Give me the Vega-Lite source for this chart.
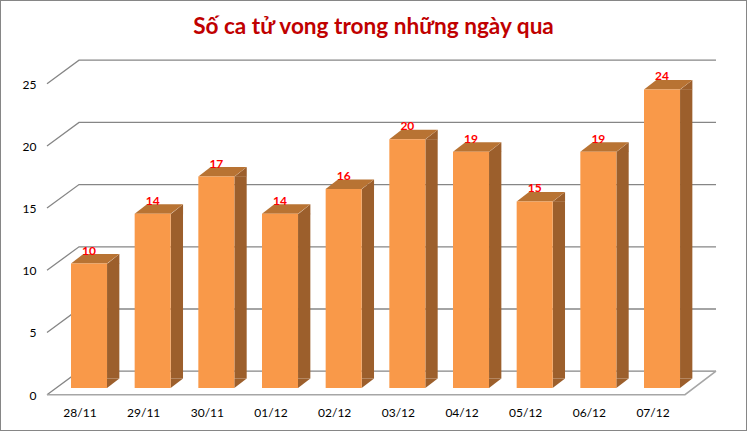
{
"$schema":"https://vega.github.io/schema/vega-lite/v6.json",
"width":747,"height":431,"padding":0,"autosize":{"type":"none"},
"background":"white",
"view":{"stroke":"#868686","strokeWidth":2,"fill":"white"},
"title":{"text":"Số ca tử vong trong những ngày qua","color":"#C00000","font":"Lato","fontWeight":"bold","fontSize":22.6,"anchor":"middle","frame":"group","orient":"top","offset":-35,"baseline":"alphabetic","dy":22},
"datasets":{
"ticks":[{"tick":0},{"tick":5},{"tick":10},{"tick":15},{"tick":20},{"tick":25}],
"deaths":[{"date":"28/11","value":10},{"date":"29/11","value":14},{"date":"30/11","value":17},{"date":"01/12","value":14},{"date":"02/12","value":16},{"date":"03/12","value":20},{"date":"04/12","value":19},{"date":"05/12","value":15},{"date":"06/12","value":19},{"date":"07/12","value":24}]
},
"layer":[
{"data":{"name":"ticks"},
 "mark":{"type":"point","shape":"M-42,6.7 L-10,-16.8 L627,-16.8","filled":false,"size":4,"stroke":"#868686","strokeWidth":1.3,"opacity":1},
 "encoding":{"x":{"datum":"28/11","type":"nominal","scale":{"domain":["28/11","29/11","30/11","01/12","02/12","03/12","04/12","05/12","06/12","07/12"],"range":[71,680],"paddingInner":0.4346,"paddingOuter":0},"axis":{"title":null,"orient":"bottom","offset":-24,"labelPadding":0,"ticks":false,"domain":false,"grid":false,"labelAngle":0,"labelOffset":-9,"labelFont":"Lato","labelFontSize":12,"labelColor":"#000000"}},
  "y":{"field":"tick","type":"quantitative","scale":{"domain":[0,25],"range":[388,77],"nice":false,"zero":true},"axis":{"title":null,"orient":"left","offset":-36,"labelPadding":0,"ticks":false,"domain":false,"grid":false,"values":[0,5,10,15,20,25],"labelOffset":7,"labelFont":"Lato","labelFontSize":12,"labelColor":"#000000"}}}},
{"data":{"values":[{"tick":0}]},
 "mark":{"type":"point","shape":"M-42,6.7 L596,6.7 L627,-16.8","filled":false,"size":4,"stroke":"#A6A6A6","strokeWidth":1.6,"opacity":1},
 "encoding":{"x":{"datum":"28/11","type":"nominal"},"y":{"field":"tick","type":"quantitative"}}},
{"data":{"name":"deaths"},
 "mark":{"type":"bar","size":12.3,"xOffset":24.2,"y2Offset":-9.5,"fill":"#9C5F2C"},
 "encoding":{"x":{"field":"date","type":"nominal","sort":null},"y":{"field":"value","type":"quantitative"},"y2":{"datum":0}}},
{"data":{"name":"deaths"},
 "mark":{"type":"point","shape":"M18,0.3 L30.4,-9.5 L30.4,0.3 Z","filled":true,"size":4,"fill":"#9C5F2C","strokeWidth":0,"opacity":1},
 "encoding":{"x":{"field":"date","type":"nominal","sort":null},"y":{"field":"value","type":"quantitative"}}},
{"data":{"name":"deaths"},
 "mark":{"type":"point","shape":"M18,0 L30.4,-9.5 L18,-9.5 Z","filled":true,"size":4,"fill":"#9C5F2C","strokeWidth":0,"opacity":1},
 "encoding":{"x":{"field":"date","type":"nominal","sort":null},"y":{"datum":0,"type":"quantitative"}}},
{"data":{"name":"deaths"},
 "mark":{"type":"point","shape":"M-18,0 L-5.7,-9.5 L30.4,-9.5 L18,0 Z","filled":true,"size":4,"fill":"#B87333","strokeWidth":0,"opacity":1},
 "encoding":{"x":{"field":"date","type":"nominal","sort":null},"y":{"field":"value","type":"quantitative"}}},
{"data":{"name":"deaths"},
 "mark":{"type":"bar","fill":"#F99949"},
 "encoding":{"x":{"field":"date","type":"nominal","sort":null},"y":{"field":"value","type":"quantitative"}}},
{"data":{"name":"deaths"},
 "mark":{"type":"text","color":"#FF0000","font":"Lato","fontWeight":"bold","fontSize":12,"baseline":"middle","dy":-13},
 "encoding":{"x":{"field":"date","type":"nominal","sort":null},"y":{"field":"value","type":"quantitative"},"text":{"field":"value","type":"quantitative"}}}
]
}
